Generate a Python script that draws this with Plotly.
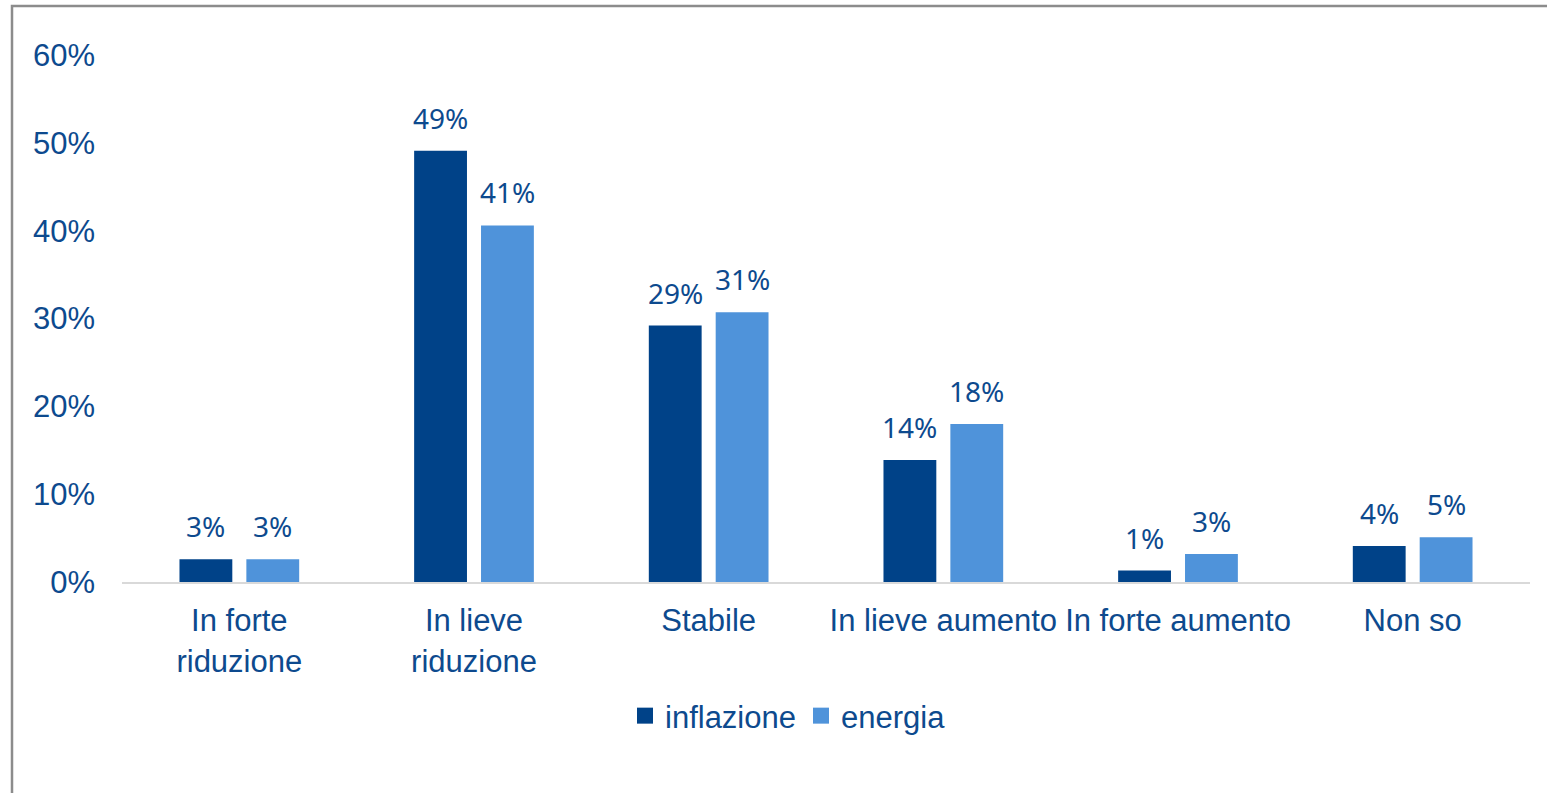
import plotly.graph_objects as go

categories = ["In forte<br>riduzione", "In lieve<br>riduzione", "Stabile",
              "In lieve aumento", "In forte aumento", "Non so"]
inflazione = [2.6, 49.1, 29.2, 13.9, 1.3, 4.1]
energia = [2.6, 40.6, 30.7, 18.0, 3.2, 5.1]
y_ticks = [0, 10, 20, 30, 40, 50, 60]
y_tick_labels = ["0%", "10%", "20%", "30%", "40%", "50%", "60%"]

TEXT = "#0D4A8E"
C_INF = "#004288"
C_ENE = "#4F93DA"
W, H = 1547, 793
L, R, T, B = 122, 17, 55, 793 - 582
pw, ph = W - L - R, H - T - B

def px_x(px):
    return (px - L) / pw

def px_y(py):
    return (H - B - py) / ph

fig = go.Figure()
for name, vals, col in [("inflazione", inflazione, C_INF), ("energia", energia, C_ENE)]:
    fig.add_trace(go.Bar(
        name=name, x=categories, y=vals, showlegend=False,
        marker=dict(color=col, line=dict(width=0)),
    ))
    fig.add_trace(go.Scatter(
        name=name, x=[None], y=[None], mode="markers", showlegend=True,
        marker=dict(symbol="square", size=16, color=col),
    ))

annotations = []
for vals, shift in [(inflazione, -33.5), (energia, 33.5)]:
    for c, v in zip(categories, vals):
        annotations.append(dict(
            x=c, y=v, xref="x", yref="y", text=f"{v:.0f}%", showarrow=False,
            xshift=shift, yshift=12, yanchor="bottom", xanchor="center",
            font=dict(family="Noto Sans", size=28, color=TEXT),
        ))

fig.update_layout(
    width=W, height=H,
    margin=dict(l=L, r=R, t=T, b=B, autoexpand=False),
    paper_bgcolor="white", plot_bgcolor="white",
    barmode="group", bargap=0.43, bargroupgap=0.21,
    font=dict(family="Liberation Sans, Arial", size=31, color=TEXT),
    showlegend=True,
    legend=dict(orientation="h", x=px_x(788), xanchor="center",
                y=px_y(716), yanchor="middle",
                font=dict(family="Liberation Sans, Arial", size=31, color=TEXT),
                itemwidth=30, traceorder="normal", tracegroupgap=0),
    xaxis=dict(showgrid=False, showline=True, linecolor="#D9D9D9", linewidth=2,
               ticks="", tickfont=dict(size=31, color=TEXT), ticklabelstandoff=10,
               fixedrange=True),
    yaxis=dict(range=[0, 60], tickvals=y_ticks, ticktext=y_tick_labels,
               showgrid=False, zeroline=False, showline=False, ticks="",
               tickfont=dict(size=31, color=TEXT), ticklabelstandoff=26,
               fixedrange=True),
    annotations=annotations,
    shapes=[dict(type="rect", xref="paper", yref="paper",
                 x0=px_x(12), x1=px_x(1570), y0=px_y(820), y1=px_y(6),
                 line=dict(color="#8C8C8C", width=2.5), fillcolor="rgba(0,0,0,0)",
                 layer="below")],
)

fig.write_html("out.html", config={"displayModeBar": False},
               post_script="document.body.style.margin='0px';")
